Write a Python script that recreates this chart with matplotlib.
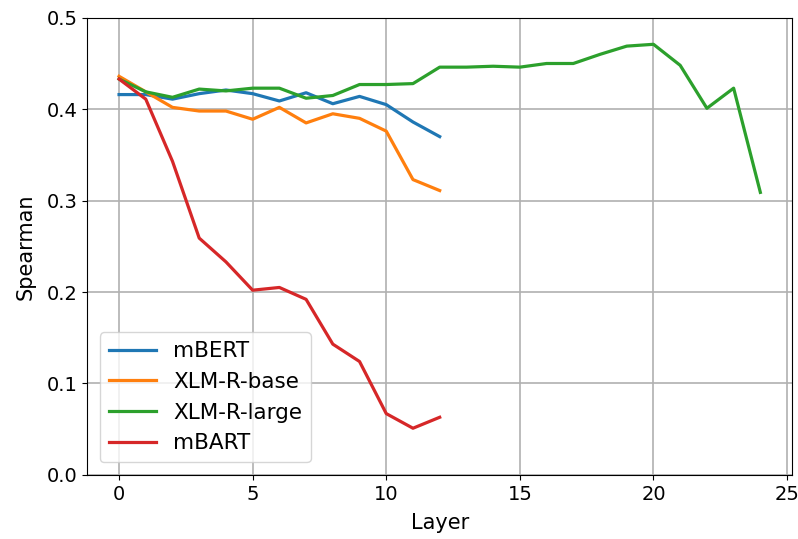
import matplotlib
matplotlib.use("Agg")
import matplotlib.pyplot as plt

mbert = [0.416, 0.416, 0.411, 0.417, 0.421, 0.417, 0.409, 0.418, 0.406, 0.414, 0.405, 0.386, 0.370]
xlmr_base = [0.436, 0.419, 0.402, 0.398, 0.398, 0.389, 0.402, 0.385, 0.395, 0.390, 0.376, 0.323, 0.311]
xlmr_large = [0.433, 0.419, 0.413, 0.422, 0.420, 0.423, 0.423, 0.412, 0.415, 0.427, 0.427, 0.428, 0.446,
              0.446, 0.447, 0.446, 0.450, 0.450, 0.460, 0.469, 0.471, 0.448, 0.401, 0.423, 0.309]
mbart = [0.433, 0.411, 0.343, 0.259, 0.233, 0.202, 0.205, 0.192, 0.143, 0.124, 0.067, 0.051, 0.063]

plt.rcParams['font.size'] = 14

fig = plt.figure(figsize=(7.98, 5.39), dpi=100)
ax = fig.add_axes([0.109, 0.119, 0.884, 0.848])

# one line per model, layer index on x
ax.plot(range(len(mbert)), mbert, label="mBERT", linewidth=2.3)
ax.plot(range(len(xlmr_base)), xlmr_base, label="XLM-R-base", linewidth=2.3)
ax.plot(range(len(xlmr_large)), xlmr_large, label="XLM-R-large", linewidth=2.3)
ax.plot(range(len(mbart)), mbart, label="mBART", linewidth=2.3)

ax.set_ylim(0.0, 0.5)
ax.set_xlabel("Layer", fontsize=15, labelpad=7)
ax.set_ylabel("Spearman", fontsize=15, labelpad=8)
ax.grid(True, color="#b0b0b0", linewidth=1.2)
ax.legend(loc="lower left", fontsize=15.5, handlelength=2.2, borderaxespad=0.6)

plt.savefig("out.png")
